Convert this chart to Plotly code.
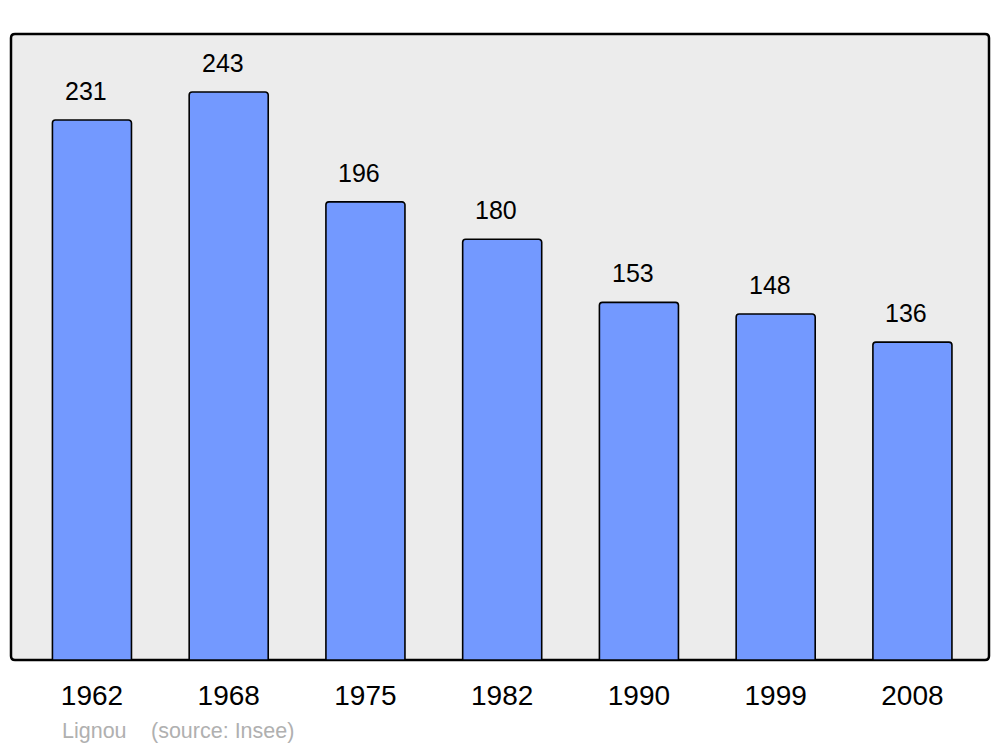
import plotly.graph_objects as go

years = ["1962", "1968", "1975", "1982", "1990", "1999", "2008"]
population = [231, 243, 196, 180, 153, 148, 136]
commune = "Lignou"
source = "(source: Insee)"

xpos = list(range(len(years)))

# page has an 8px body margin: figure starts at (8, 8)
FIG_W, FIG_H = 992, 739
ML, MR, MT, MB = 3, 11, 26, 87
W, H = FIG_W - ML - MR, FIG_H - MT - MB  # 978 x 626

FONT = "Liberation Sans, Arial, sans-serif"

fig = go.Figure()
fig.add_trace(go.Bar(
    x=xpos, y=population, width=0.578,
    marker=dict(color="#7399ff", line=dict(color="#000000", width=1.6), cornerradius=3),
    hoverinfo="skip",
))

for xi, v in zip(xpos, population):
    fig.add_annotation(x=xi - 0.045, y=v, text=str(v), showarrow=False, yanchor="bottom",
                       yshift=13, font=dict(size=25, color="#000000", family=FONT))

rx, ry = 4 / W, 4 / H
path = (f"M {rx},0 L {1-rx},0 Q 1,0 1,{ry} L 1,{1-ry} Q 1,1 {1-rx},1 "
        f"L {rx},1 Q 0,1 0,{1-ry} L 0,{ry} Q 0,0 {rx},0 Z")
fig.add_shape(type="path", path=path, xref="paper", yref="paper", layer="below",
              fillcolor="#ececec", line=dict(color="#000000", width=2.5))

fy = -(731 - 660) / H
fig.add_annotation(x=(60 - 11) / W, y=fy, xref="paper", yref="paper", text=commune,
                   showarrow=False, xanchor="left", yanchor="middle",
                   font=dict(size=21.5, color="#b0b0b0", family=FONT))
fig.add_annotation(x=(149 - 11) / W, y=fy, xref="paper", yref="paper", text=source,
                   showarrow=False, xanchor="left", yanchor="middle",
                   font=dict(size=21.5, color="#b0b0b0", family=FONT))

fig.update_layout(
    width=FIG_W, height=FIG_H,
    margin=dict(l=ML, r=MR, t=MT, b=MB),
    paper_bgcolor="#ffffff", plot_bgcolor="rgba(0,0,0,0)",
    showlegend=False,
    font=dict(family=FONT, color="#000000"),
    xaxis=dict(range=[-0.592, 6.56], tickvals=xpos, ticktext=years, showgrid=False,
               zeroline=False, showline=False, ticks="outside", ticklen=10,
               tickcolor="rgba(0,0,0,0)", tickfont=dict(size=28, color="#000000"), fixedrange=True),
    yaxis=dict(range=[0, 267.8], showgrid=False, zeroline=False, showline=False,
               showticklabels=False, ticks="", fixedrange=True),
)

fig.write_html("out.html")
